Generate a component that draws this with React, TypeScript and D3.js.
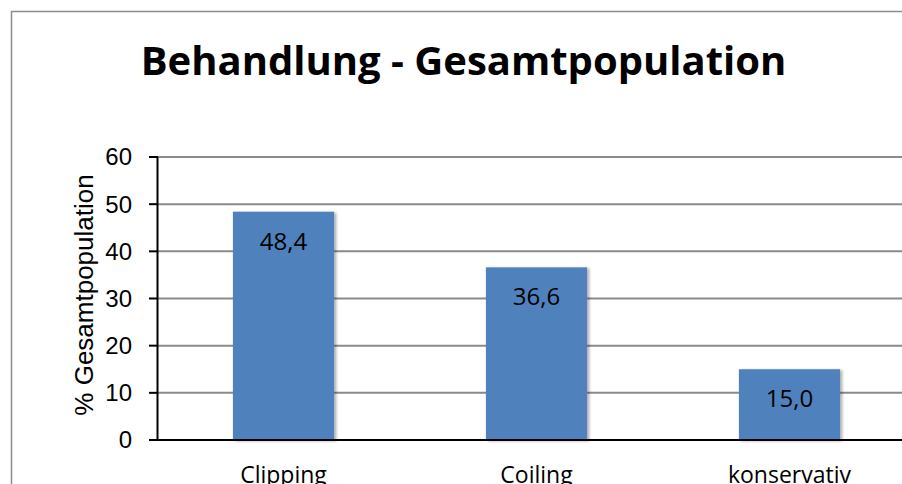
import React from "react";
import * as d3 from "d3";

const categories = ["Clipping", "Coiling", "konservativ"];
const values = [48.4, 36.6, 15.0];
const yTicks = [0, 10, 20, 30, 40, 50, 60];
const title = "Behandlung - Gesamtpopulation";
const yAxisTitle = "% Gesamtpopulation";

const W = 902;
const H = 484;

export default function App() {
  const y = d3.scaleLinear().domain([0, 60]).range([440, 157]);
  const x = d3
    .scaleBand<string>()
    .domain(categories)
    .range([157, 916])
    .paddingInner(0.6)
    .paddingOuter(0.3);
  const fmt = (v: number) => d3.format(".1f")(v).replace(".", ",");
  const calibri = "'Open Sans', 'Noto Sans', sans-serif";
  const arial = "'Liberation Sans', Arial, sans-serif";

  return (
    <svg
      width={W}
      height={H}
      style={{ position: "absolute", left: 0, top: 0, background: "#fff" }}
    >
      <defs>
        <filter id="shadow" x="-10%" y="-10%" width="130%" height="130%">
          <feDropShadow dx="2" dy="1" stdDeviation="1.5" floodColor="#000" floodOpacity="0.35" />
        </filter>
      </defs>
      <rect x={0} y={0} width={W} height={H} fill="#fff" />
      {/* chart border */}
      <rect x={11.5} y={11.5} width={W + 20} height={H + 20} fill="none" stroke="#8c8c8c" strokeWidth={1.5} />

      <text x={463.5} y={75} textAnchor="middle" fontFamily={calibri} fontWeight="bold" fontSize={40} fill="#000">
        {title}
      </text>

      {/* gridlines */}
      {yTicks.filter((t) => t > 0).map((t) => (
        <line key={"g" + t} x1={157} x2={W + 10} y1={y(t)} y2={y(t)} stroke="#8a8a8a" strokeWidth={2} />
      ))}
      {/* tick marks */}
      {yTicks.map((t) => (
        <line key={"t" + t} x1={149} x2={158} y1={y(t)} y2={y(t)} stroke="#000" strokeWidth={2} />
      ))}
      {/* y tick labels */}
      {yTicks.map((t) => (
        <text key={"l" + t} x={132} y={y(t)} dy="0.35em" textAnchor="end" fontFamily={arial} fontSize={24} fill="#000">
          {t}
        </text>
      ))}

      {/* bars */}
      {categories.map((c, i) => (
        <rect
          key={c}
          x={x(c)}
          y={y(values[i])}
          width={x.bandwidth()}
          height={y(0) - y(values[i])}
          fill="#4F81BD"
          filter="url(#shadow)"
        />
      ))}
      {/* data labels */}
      {categories.map((c, i) => (
        <text
          key={"d" + c}
          x={(x(c) as number) + x.bandwidth() / 2}
          y={y(values[i]) + 38}
          textAnchor="middle"
          fontFamily={calibri}
          fontSize={24}
          fill="#000"
        >
          {fmt(values[i])}
        </text>
      ))}

      {/* axes */}
      <line x1={157.5} x2={157.5} y1={y(60)} y2={y(0) + 1} stroke="#000" strokeWidth={2} />
      <line x1={157} x2={W + 10} y1={y(0)} y2={y(0)} stroke="#000" strokeWidth={2} />

      {/* category labels */}
      {categories.map((c) => (
        <text
          key={"c" + c}
          x={(x(c) as number) + x.bandwidth() / 2}
          y={483}
          textAnchor="middle"
          fontFamily={calibri}
          fontSize={23}
          fill="#000"
        >
          {c}
        </text>
      ))}

      {/* y axis title */}
      <text
        transform={`translate(93, 295) rotate(-90)`}
        textAnchor="middle"
        fontFamily={arial}
        fontSize={26}
        fill="#000"
      >
        {yAxisTitle}
      </text>
    </svg>
  );
}
